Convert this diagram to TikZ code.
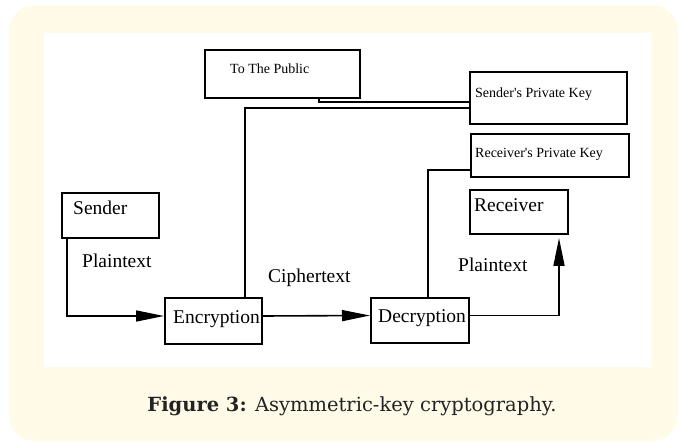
\documentclass[tikz,border=0pt]{standalone}
\usepackage{fontspec}
\setmainfont{Liberation Serif}[Ligatures=TeXOff]
\newfontfamily\capfont{DejaVu Serif}
\usetikzlibrary{arrows.meta}
\definecolor{cream}{RGB}{255,251,232}
\definecolor{capgray}{RGB}{35,35,35}
\tikzset{
  box/.style={draw=black, line width=2pt, inner sep=0pt, anchor=north west},
  conn/.style={draw=black, line width=1.6pt},
  arr/.style={conn, -{Triangle[length=28pt,width=11pt]}},
  bigtxt/.style={anchor=base west, inner sep=0pt, font=\fontsize{19.5}{22}\selectfont},
  smalltxt/.style={anchor=base west, inner sep=0pt, font=\fontsize{14}{16}\selectfont},
}
\begin{document}
\begin{tikzpicture}[x=1pt,y=-1pt]
\useasboundingbox (0,0) rectangle (685,446);
\fill[cream, rounded corners=26pt] (9,5) rectangle (678,441);
\fill[white] (44,33) rectangle (651,367);
% boxes
\node[box, minimum width=155pt, minimum height=48pt] (pub) at (204,49) {};
\node[box, minimum width=157pt, minimum height=52pt] (spk) at (469,71) {};
\node[box, minimum width=158pt, minimum height=43pt] (rpk) at (470,133) {};
\node[box, minimum width=98pt, minimum height=44pt] (rcv) at (469,189) {};
\node[box, minimum width=97pt, minimum height=45pt] (snd) at (61,192) {};
\node[box, minimum width=97pt, minimum height=46pt] (enc) at (164,297) {};
\node[box, minimum width=98pt, minimum height=45pt] (dec) at (370,297) {};
% texts
\node[smalltxt] (tpub) at (230,74) {To The Public};
\node[smalltxt] (tspk) at (475,98) {Sender's Private Key};
\node[smalltxt] (trpk) at (475,158) {Receiver's Private Key};
\node[bigtxt] (trcv) at (474,212) {Receiver};
\node[bigtxt] (tsnd) at (73,215) {Sender};
\node[bigtxt] (tenc) at (173,323) {Encryption};
\node[bigtxt] (tdec) at (378,322) {Decryption};
\node[bigtxt] (lp1) at (82,268) {Plaintext};
\node[bigtxt] (lct) at (268,283) {Ciphertext};
\node[bigtxt] (lp2) at (458,272) {Plaintext};
% connectors
\draw[conn] ([xshift=36.5pt]pub.south) |- ([yshift=-4pt]spk.west);
\draw[conn] ([xshift=31.5pt]enc.north) |- ([yshift=-10pt]spk.west);
\draw[conn] ([xshift=8pt]dec.north) |- ([yshift=-14.5pt]rpk.west);
\draw[arr] ([xshift=-43.5pt]snd.south) |- ([yshift=5pt]enc.west);
\draw[arr] ([yshift=5pt]enc.east) -- ([yshift=5pt]dec.west);
\coordinate (tip) at (559,238);
\draw[arr] ([yshift=5pt]dec.east) -| (tip);
% caption
\node[anchor=base, inner sep=0pt, text=capgray, font=\capfont\fontsize{19.5}{22}\selectfont] (cap) at (352,411) {\textbf{Figure 3:} Asymmetric-key cryptography.};
\end{tikzpicture}
\end{document}
